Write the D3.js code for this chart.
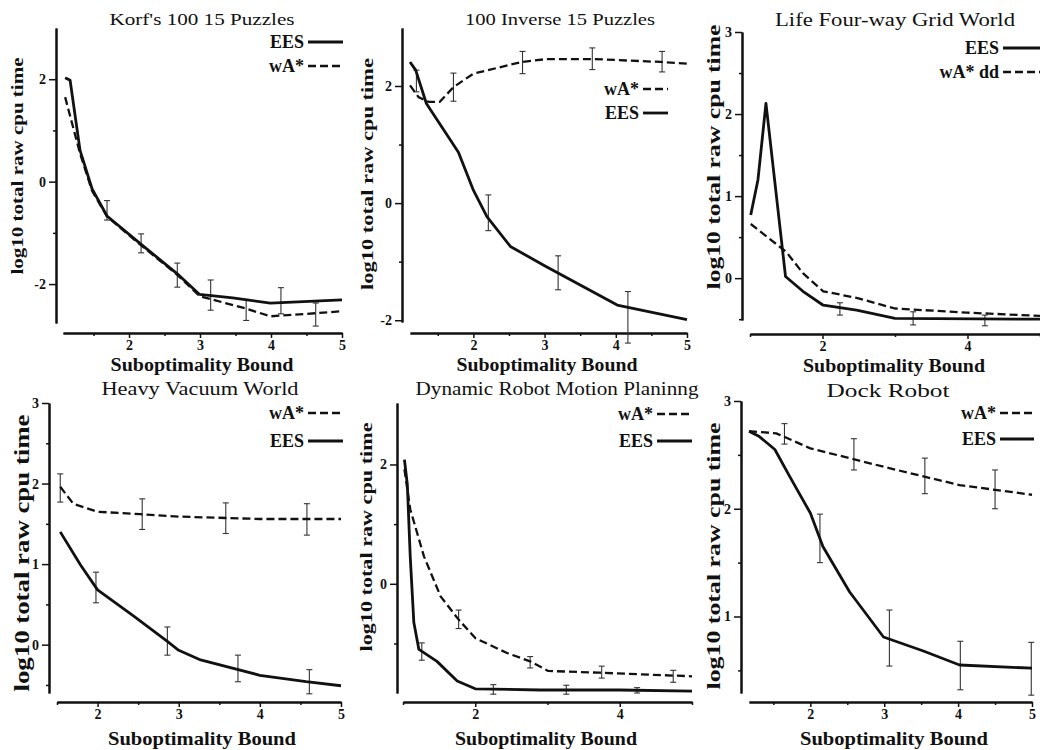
<!DOCTYPE html>
<html lang="en">
<head>
<meta charset="UTF-8">
<title>Suboptimality Bound panels</title>
<script src="https://cdn.jsdelivr.net/npm/d3@7"></script>
<style>
  body { margin: 0; background: #fff; }
  svg { display: block; }
  .title { font-family: "Liberation Serif", serif; text-anchor: middle; fill: #111; }
  .lbl { font-family: "Liberation Serif", serif; font-weight: bold; fill: #111; }
  .tick text { font-family: "Liberation Serif", serif; font-weight: bold; font-size: 14px; fill: #111; }
  .domain { stroke: #111; stroke-width: 2px; }
  .tick line { stroke: #111; stroke-width: 1.5px; }
</style>
</head>
<body>
<svg width="1040" height="750"></svg>
<script>
// ---- text ----
const titles = ["Korf's 100 15 Puzzles", "100 Inverse 15 Puzzles", "Life Four-way Grid World",
                "Heavy Vacuum World", "Dynamic Robot Motion Planinng", "Dock Robot"];
const xLabel = "Suboptimality Bound";
const yLabel = "log10 total raw cpu time";

// ---- data: [bound, log10 cpu time] ----
const korfEES = [[1.10,2.03],[1.17,1.98],[1.31,0.61],[1.48,-0.14],[1.69,-0.67],[2.15,-1.20],[2.68,-1.80],[2.99,-2.20],[3.46,-2.27],[3.99,-2.37],[5.0,-2.31]];
const korfWA  = [[1.10,1.65],[1.31,0.55],[1.48,-0.18],[1.69,-0.68],[2.15,-1.22],[2.68,-1.82],[3.0,-2.24],[3.63,-2.47],[3.99,-2.63],[4.62,-2.57],[5.0,-2.53]];
const korfErr = [[1.69,-0.75,-0.37],[2.17,-1.39,-1.02],[2.68,-2.06,-1.59],[3.15,-2.51,-1.92],[3.65,-2.71,-2.30],[4.14,-2.58,-2.07],[4.63,-2.82,-2.37]];

const invEES = [[1.11,2.41],[1.19,2.27],[1.34,1.70],[1.79,0.87],[2.0,0.22],[2.19,-0.23],[2.52,-0.74],[3.0,-1.07],[4.02,-1.74],[5.0,-1.99]];
const invWA  = [[1.11,2.01],[1.23,1.81],[1.37,1.73],[1.53,1.73],[1.72,1.98],[2.0,2.21],[2.68,2.41],[3.03,2.46],[3.69,2.46],[4.63,2.41],[5.0,2.38]];
const invErr = [[1.20,1.90,2.27],[1.72,1.74,2.22],[2.69,2.21,2.59],[3.67,2.28,2.65],[4.65,2.24,2.59],[2.21,-0.47,0.14],[3.19,-1.48,-0.90],[4.17,-2.39,-1.51]];

const lifeEES = [[1.01,0.77],[1.11,1.20],[1.22,2.13],[1.49,0.02],[1.73,-0.16],[2.01,-0.33],[2.47,-0.39],[3.0,-0.49],[5.0,-0.50]];
const lifeWA  = [[1.01,0.66],[1.50,0.32],[1.73,0.06],[2.01,-0.16],[2.47,-0.24],[3.0,-0.37],[3.99,-0.42],[5.0,-0.46]];
const lifeErr = [[2.24,-0.45,-0.30],[3.25,-0.57,-0.41],[4.24,-0.58,-0.45]];

const vacWA  = [[1.54,1.96],[1.70,1.75],[2.0,1.65],[2.53,1.62],[3.0,1.59],[4.0,1.56],[5.0,1.56]];
const vacEES = [[1.54,1.40],[1.79,0.99],[2.0,0.68],[2.45,0.35],[2.86,0.04],[3.0,-0.07],[3.27,-0.19],[4.0,-0.38],[4.57,-0.46],[5.0,-0.51]];
const vacErr = [[1.54,1.77,2.12],[2.55,1.43,1.81],[3.58,1.38,1.76],[4.58,1.36,1.75],
                [1.98,0.52,0.90],[2.86,-0.13,0.22],[3.73,-0.46,-0.13],[4.61,-0.61,-0.31]];

const robWA  = [[1.02,1.92],[1.10,1.25],[1.29,0.46],[1.52,-0.21],[1.77,-0.60],[2.0,-0.91],[2.44,-1.16],[2.76,-1.30],[3.01,-1.46],[3.72,-1.49],[5.0,-1.55]];
const robEES = [[1.02,2.08],[1.06,1.66],[1.10,0.46],[1.15,-0.65],[1.22,-1.10],[1.47,-1.30],[1.75,-1.63],[2.0,-1.76],[2.9,-1.78],[4.0,-1.78],[5.0,-1.80]];
const robErr = [[1.77,-0.75,-0.44],[2.76,-1.41,-1.22],[3.75,-1.58,-1.38],[4.74,-1.65,-1.45],
                [1.26,-1.28,-0.99],[2.25,-1.85,-1.69],[3.26,-1.85,-1.70],[4.24,-1.83,-1.74]];

const dockWA  = [[1.17,2.72],[1.54,2.70],[2.0,2.56],[2.53,2.47],[2.99,2.39],[3.53,2.30],[4.02,2.22],[5.0,2.13]];
const dockEES = [[1.17,2.72],[1.31,2.67],[1.52,2.55],[1.72,2.30],[2.0,1.96],[2.17,1.65],[2.53,1.23],[2.99,0.81],[3.53,0.68],[4.02,0.55],[5.0,0.52]];
const dockErr = [[1.65,2.60,2.79],[2.59,2.36,2.65],[3.55,2.14,2.47],[4.50,2.00,2.36],
                 [2.13,1.50,1.95],[3.07,0.54,1.06],[4.03,0.32,0.77],[4.99,0.27,0.76]];

// ---- ticks ----
const xTicks5 = [2, 3, 4, 5], xMinor5 = [1.5, 2.5, 3.5, 4.5];
const xTicks4 = [2, 4], xMinor4 = [1, 3, 5];

// ---- panels (layout in pixels; text entries are [x, y, length, font size]) ----
const panels = [
  { title: titles[0], tt: [202, 25, 185, 17],
    xd: [1.07, 5], xr: [63, 342], yd: [-2.76, 3.0], yr: [323, 28], ax: 56, ay: 333,
    xMaj: xTicks5, xMin: xMinor5, yMaj: [-2, 0, 2], yMin: [-1, 1],
    xl: [202, 371, 183, 18], yl: [23, 166, 217, 16.5],
    series: [{ name: "EES", data: korfEES }, { name: "wA*", data: korfWA, dash: true }],
    err: korfErr, leg: { x0: 308, x1: 343, ys: [42, 66] } },
  { title: titles[1], tt: [560, 25, 190, 17],
    xd: [1.11, 5], xr: [410, 687], yd: [-2.03, 2.99], yr: [322, 28], ax: 402, ay: 333,
    xMaj: xTicks5, xMin: xMinor5, yMaj: [-2, 0, 2], yMin: [-1, 1],
    xl: [547, 371, 181, 18], yl: [373, 174, 232, 17.5],
    series: [{ name: "wA*", data: invWA, dash: true }, { name: "EES", data: invEES }],
    err: invErr, leg: { x0: 643, x1: 668, ys: [89, 113] } },
  { title: titles[2], tt: [895, 26, 240, 18],
    xd: [1.0, 5], xr: [750, 1040], yd: [-0.51, 3.0], yr: [320, 32], ax: 742, ay: 334,
    xMaj: xTicks4, xMin: xMinor4, yMaj: [0, 1, 2, 3], yMin: [-0.5, 0.5, 1.5, 2.5],
    xl: [894, 372, 182, 18], yl: [720, 157, 265, 19],
    series: [{ name: "EES", data: lifeEES }, { name: "wA* dd", data: lifeWA, dash: true }],
    err: lifeErr, leg: { x0: 1003, x1: 1040, ys: [48, 72] } },
  { title: titles[3], tt: [200, 395, 197, 18],
    xd: [1.5, 5], xr: [57, 341], yd: [-0.6, 3.0], yr: [693, 403], ax: 49, ay: 702,
    xMaj: xTicks5, xMin: xMinor5, yMaj: [0, 1, 2, 3], yMin: [-0.5, 0.5, 1.5, 2.5],
    xl: [202, 745, 188, 19], yl: [29, 553, 277, 20],
    series: [{ name: "wA*", data: vacWA, dash: true }, { name: "EES", data: vacEES }],
    err: vacErr, leg: { x0: 308, x1: 343, ys: [413, 441] } },
  { title: titles[4], tt: [557, 395, 283, 18],
    xd: [1.0, 5], xr: [403, 692], yd: [-1.83, 3.03], yr: [693, 403], ax: 397, ay: 702,
    xMaj: xTicks4, xMin: xMinor4, yMaj: [0, 2], yMin: [-1, 1],
    xl: [546, 745, 182, 19], yl: [372, 537, 229, 17.5],
    series: [{ name: "wA*", data: robWA, dash: true }, { name: "EES", data: robEES }],
    err: robErr, leg: { x0: 657, x1: 692, ys: [414, 441] } },
  { title: titles[5], tt: [888, 397, 123, 19],
    xd: [1.17, 5], xr: [749, 1032], yd: [0.29, 3.0], yr: [693, 401], ax: 741, ay: 702,
    xMaj: xTicks5, xMin: xMinor5, yMaj: [1, 2, 3], yMin: [0.5, 1.5, 2.5],
    xl: [894, 745, 188, 19], yl: [720, 556, 267, 19.5],
    series: [{ name: "wA*", data: dockWA, dash: true }, { name: "EES", data: dockEES }],
    err: dockErr, leg: { x0: 1000, x1: 1034, ys: [413, 439] } }
];

const svg = d3.select("svg");

// size a text and stretch it to the length measured on the scanned figure
function sized(sel, len, fs) {
  sel.style("font-size", fs + "px")
    .attr("textLength", len)
    .attr("lengthAdjust", "spacingAndGlyphs");
}

panels.forEach(p => {
  const g = svg.append("g");
  const x = d3.scaleLinear().domain(p.xd).range(p.xr);
  const y = d3.scaleLinear().domain(p.yd).range(p.yr);
  const fmt = d => String(d);

  // axes: minor ticks first, then labelled ticks
  g.append("g").attr("transform", `translate(0,${p.ay})`)
    .call(d3.axisBottom(x).tickValues(p.xMin).tickSize(3).tickSizeOuter(0).tickFormat(""));
  g.append("g").attr("transform", `translate(0,${p.ay})`)
    .call(d3.axisBottom(x).tickValues(p.xMaj).tickSize(5).tickSizeOuter(0).tickPadding(2).tickFormat(fmt));
  g.append("g").attr("transform", `translate(${p.ax},0)`)
    .call(d3.axisLeft(y).tickValues(p.yMin).tickSize(3).tickSizeOuter(0).tickFormat(""));
  g.append("g").attr("transform", `translate(${p.ax},0)`)
    .call(d3.axisLeft(y).tickValues(p.yMaj).tickSize(7).tickSizeOuter(0).tickPadding(3).tickFormat(fmt));

  // error bars
  const eb = g.append("g").attr("stroke", "#333").attr("stroke-width", 1.1);
  p.err.forEach(e => {
    const cx = x(e[0]);
    eb.append("line").attr("x1", cx).attr("x2", cx).attr("y1", y(e[1])).attr("y2", y(e[2]));
    eb.append("line").attr("x1", cx - 3).attr("x2", cx + 3).attr("y1", y(e[1])).attr("y2", y(e[1]));
    eb.append("line").attr("x1", cx - 3).attr("x2", cx + 3).attr("y1", y(e[2])).attr("y2", y(e[2]));
  });

  // curves
  const line = d3.line().x(d => x(d[0])).y(d => y(d[1]));
  p.series.forEach(s => {
    g.append("path").datum(s.data)
      .attr("d", line)
      .attr("fill", "none")
      .attr("stroke", "#111")
      .attr("stroke-width", s.dash ? 2.3 : 2.8)
      .attr("stroke-dasharray", s.dash ? "8,4" : null)
      .attr("stroke-linejoin", "round");
  });

  // legend
  p.series.forEach((s, i) => {
    const ly = p.leg.ys[i];
    g.append("line")
      .attr("x1", p.leg.x0).attr("x2", p.leg.x1).attr("y1", ly).attr("y2", ly)
      .attr("stroke", "#111").attr("stroke-width", s.dash ? 2.3 : 2.8)
      .attr("stroke-dasharray", s.dash ? "8,4" : null);
    g.append("text").attr("class", "lbl")
      .attr("x", p.leg.x0 - 4).attr("y", ly + 6)
      .attr("text-anchor", "end")
      .style("font-size", "18px")
      .text(s.name);
  });

  // title and axis labels
  const t = g.append("text").attr("class", "title")
    .attr("x", p.tt[0]).attr("y", p.tt[1]).text(p.title);
  sized(t, p.tt[2], p.tt[3]);

  const xt = g.append("text").attr("class", "lbl")
    .attr("x", p.xl[0]).attr("y", p.xl[1])
    .attr("text-anchor", "middle").text(xLabel);
  sized(xt, p.xl[2], p.xl[3]);

  const yt = g.append("text").attr("class", "lbl")
    .attr("transform", `translate(${p.yl[0]},${p.yl[1]}) rotate(-90)`)
    .attr("text-anchor", "middle").text(yLabel);
  sized(yt, p.yl[2], p.yl[3]);
});
</script>
</body>
</html>
